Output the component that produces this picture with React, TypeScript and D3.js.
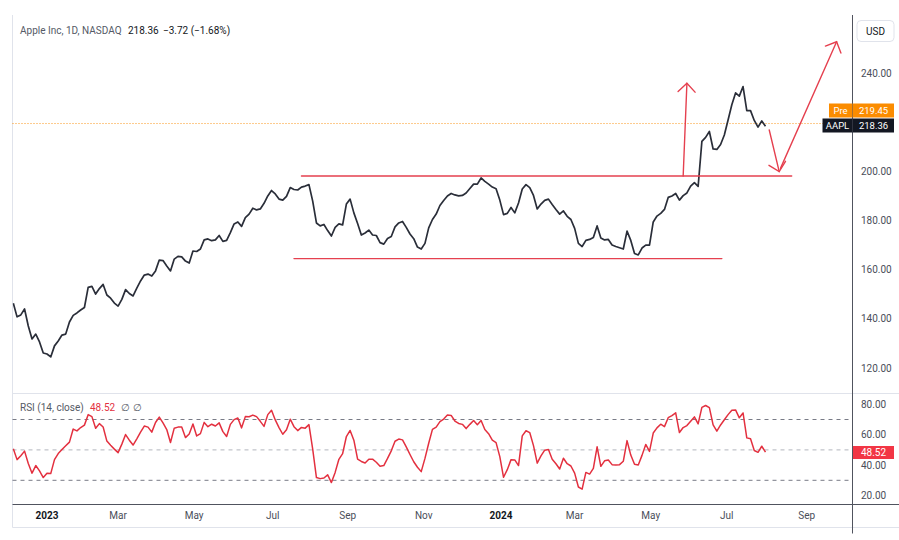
import React from "react";
import * as d3 from "d3";

// ---- data ----
const START_DATE = "2022-12-07";
const STEP_DAYS = 3;

const closePrices = [
  146.3, 140.8, 141.6, 144.0, 137.1, 131.8, 133.8, 130.6, 126.1, 125.7,
  124.5, 129.0, 131.0, 133.4, 133.8, 138.7, 141.4, 142.4, 143.6, 144.6,
  152.8, 153.2, 150.1, 152.3, 154.0, 149.7, 148.4, 146.4, 145.2, 147.9,
  151.9, 150.3, 149.3, 152.5, 155.4, 157.8, 158.2, 157.4, 159.5, 163.9,
  163.7, 161.5, 159.5, 164.3, 165.4, 165.2, 163.5, 162.7, 167.6, 167.4,
  168.4, 172.1, 172.5, 171.8, 172.1, 173.9, 171.5, 171.9, 175.1, 178.6,
  179.4, 177.6, 181.2, 182.6, 185.0, 184.3, 184.7, 187.0, 190.0, 192.2,
  190.8, 188.7, 188.3, 189.8, 193.4, 192.6, 192.4, 193.6, 194.0, 194.6,
  187.9, 179.0, 177.8, 178.4, 175.9, 173.7, 177.2, 178.6, 178.2, 186.7,
  188.7, 183.1, 178.8, 174.1, 174.9, 176.1, 174.1, 173.9, 171.0, 170.4,
  172.7, 173.5, 177.4, 179.0, 179.6, 177.2, 174.5, 172.6, 169.2, 168.4,
  170.7, 177.0, 180.4, 182.6, 186.1, 188.1, 190.0, 191.0, 190.4, 190.0,
  190.2, 191.2, 193.0, 194.8, 194.8, 197.3, 195.9, 194.8, 193.6, 192.9,
  188.3, 182.4, 182.9, 185.3, 183.1, 187.1, 192.8, 194.6, 193.4, 190.2,
  184.7, 186.7, 188.2, 188.7, 186.5, 184.5, 182.6, 183.9, 181.7, 180.4,
  176.8, 170.7, 169.4, 171.9, 172.3, 173.1, 177.8, 172.9, 172.1, 172.3,
  170.0, 169.4, 168.9, 168.4, 175.7, 171.9, 166.6, 166.0, 168.8, 170.0,
  170.0, 179.4, 181.8, 182.9, 184.5, 189.4, 190.0, 191.0, 188.3, 190.1,
  191.2, 194.0, 195.4, 193.9, 212.2, 213.8, 216.2, 209.1, 208.9, 210.9,
  214.8, 220.9, 227.1, 231.9, 230.6, 234.5, 224.7, 224.7, 220.7, 218.0,
  220.5, 218.36,
];

const rsiValues = [
  50.7, 43.6, 46.2, 49.2, 41.0, 34.7, 39.7, 36.2, 31.8, 34.7,
  34.4, 43.6, 47.6, 50.2, 52.7, 55.1, 63.7, 62.5, 64.7, 66.3,
  73.2, 71.9, 64.2, 67.3, 65.1, 55.8, 53.0, 50.5, 48.2, 53.8,
  60.1, 56.4, 53.2, 57.3, 61.7, 65.7, 65.0, 61.7, 68.0, 71.6,
  67.8, 63.4, 54.9, 64.3, 65.0, 65.0, 58.1, 60.5, 67.0, 59.2,
  60.7, 68.1, 65.3, 66.9, 65.7, 67.8, 62.0, 58.8, 66.8, 69.9,
  71.0, 64.5, 71.9, 71.8, 72.9, 71.9, 68.8, 65.5, 73.2, 76.1,
  69.7, 64.7, 60.3, 63.2, 70.2, 65.3, 62.7, 64.8, 64.3, 66.6,
  50.5, 31.8, 31.1, 31.5, 33.6, 28.5, 35.2, 43.8, 47.6, 58.8,
  62.8, 56.4, 43.9, 42.4, 41.4, 43.9, 43.9, 41.9, 39.3, 39.7,
  44.4, 49.4, 55.7, 57.1, 56.6, 52.0, 47.0, 42.2, 38.6, 35.7,
  44.4, 54.4, 63.5, 65.0, 68.6, 70.3, 72.9, 72.7, 69.0, 67.4,
  66.8, 64.0, 66.8, 69.3, 66.6, 69.3, 63.4, 60.7, 56.4, 54.8,
  45.6, 32.0, 37.0, 43.6, 43.4, 39.7, 59.2, 62.6, 61.4, 52.8,
  41.3, 46.1, 49.8, 50.2, 43.9, 40.9, 37.4, 44.5, 40.9, 39.4,
  34.7, 25.6, 24.2, 35.2, 34.1, 37.8, 52.0, 39.2, 42.8, 43.4,
  40.3, 40.0, 40.3, 42.5, 56.1, 46.6, 40.5, 40.1, 46.4, 53.6,
  49.0, 61.1, 64.5, 66.9, 65.3, 71.2, 72.6, 74.4, 61.4, 64.7,
  66.0, 68.9, 71.7, 67.1, 78.0, 79.2, 77.8, 66.5, 62.3, 66.4,
  69.8, 73.2, 76.1, 76.3, 71.1, 74.3, 57.9, 57.3, 49.6, 48.4,
  52.4, 48.52,
];

const timeTickDates = [
  "2023-01-03", "2023-03-01", "2023-05-01", "2023-07-03", "2023-09-01", "2023-11-01",
  "2024-01-02", "2024-03-01", "2024-05-01", "2024-07-01", "2024-09-03",
];
const timeTickLabels = ["2023", "Mar", "May", "Jul", "Sep", "Nov", "2024", "Mar", "May", "Jul", "Sep"];

// 220.00 is hidden behind the Pre / AAPL price labels in the reference
const priceTicks = [120, 140, 160, 180, 200, 240];
const rsiTicks = [20, 40, 60, 80];
const rsiBands = [70, 50, 30];

const lastPrice = 218.36;
const priceChange = "−3.72 (−1.68%)";
const preMarketPrice = 219.45;
const lastRsi = 48.52;

// drawings: [date, price]
const resistanceLine: [string, number][] = [["2023-07-26", 198.1], ["2024-08-22", 198.1]];
const supportLine: [string, number][] = [["2023-07-20", 164.5], ["2024-06-27", 164.5]];
const breakoutArrow: [string, number][] = [["2024-05-27", 198.1], ["2024-05-30", 235.8]];
const pullbackArrow: [string, number][] = [["2024-08-04", 216.8], ["2024-08-12", 199.9]];
const targetArrow: [string, number][] = [["2024-08-13", 201.2], ["2024-09-27", 252.7]];

const FONT = "Roboto, 'Noto Sans', sans-serif";
const RED = "#e5404f";

export default function App() {
  const W = 899, H = 540;
  const L = 12.5, R = 852.5;
  const TOP = 15, SEP = 393.5, TAX = 504.5, BOT = 527.5;

  const parse = d3.timeParse("%Y-%m-%d");
  const x = d3.scaleTime()
    .domain([parse("2023-01-03")!, parse("2024-08-01")!])
    .range([47, 765.5]);
  const y = d3.scaleLinear().domain([120, 240]).range([368, 73]);
  const yR = d3.scaleLinear().domain([20, 80]).range([495.5, 404.3]);

  const start = parse(START_DATE)!;
  const dates = closePrices.map((_, i) => d3.timeDay.offset(start, i * STEP_DAYS));

  const priceLine = d3.line<number>().x((_, i) => x(dates[i])).y((d) => y(d))(closePrices) || "";
  const rsiLine = d3.line<number>().x((_, i) => x(dates[i])).y((d) => yR(d))(rsiValues) || "";

  const pt = (p: [string, number]): [number, number] => [x(parse(p[0])!), y(p[1])];
  const seg = (s: [string, number][]) => d3.line()([pt(s[0]), pt(s[1])]) || "";
  const head = (s: [string, number][], len = 12, ang = Math.PI / 4) => {
    const a = pt(s[0]), b = pt(s[1]);
    const t = Math.atan2(a[1] - b[1], a[0] - b[0]);
    const w1: [number, number] = [b[0] + len * Math.cos(t + ang), b[1] + len * Math.sin(t + ang)];
    const w2: [number, number] = [b[0] + len * Math.cos(t - ang), b[1] + len * Math.sin(t - ang)];
    return d3.line()([w1, b, w2]) || "";
  };

  const labelX = 861;
  const boxX = 853, boxW = 41;

  return (
    <svg
      width={W}
      height={H}
      style={{ position: "absolute", left: 0, top: 0, background: "#fff" }}
      fontFamily={FONT}
    >
      <defs>
        <clipPath id="plotClip">
          <rect x={L} y={TOP} width={R - L} height={TAX - TOP} />
        </clipPath>
      </defs>
      <rect x={0} y={0} width={W} height={H} fill="#fff" />

      {/* frame lines */}
      <line x1={L} x2={L} y1={TOP} y2={BOT} stroke="#e0e3eb" />
      <line x1={L} x2={W} y1={SEP} y2={SEP} stroke="#e0e3eb" />
      <line x1={L} x2={W} y1={TAX} y2={TAX} stroke="#50535e" />
      <line x1={L} x2={W} y1={BOT} y2={BOT} stroke="#e0e3eb" />
      <line x1={R} x2={R} y1={TOP} y2={BOT + 6} stroke="#50535e" />

      {/* pre-market dotted line */}
      <line x1={L} x2={R} y1={y(preMarketPrice)} y2={y(preMarketPrice)}
        stroke="#fb8c00" strokeDasharray="1 2" strokeWidth={1} opacity={0.9} />

      {/* RSI bands */}
      {rsiBands.map((b) => (
        <line key={b} x1={L} x2={R} y1={yR(b)} y2={yR(b)}
          stroke={b === 50 ? "#b2b5be" : "#787b86"} strokeDasharray="4 4" strokeWidth={1} />
      ))}

      <g clipPath="url(#plotClip)">
        <path d={priceLine} fill="none" stroke="#2a2e39" strokeWidth={1.7} strokeLinejoin="round" />
        <path d={rsiLine} fill="none" stroke="#e3303f" strokeWidth={1.5} strokeLinejoin="round" />

        {/* drawings */}
        <g stroke={RED} strokeWidth={1.4} fill="none" strokeLinecap="round">
          <path d={seg(resistanceLine)} />
          <path d={seg(supportLine)} />
          <path d={seg(breakoutArrow)} />
          <path d={head(breakoutArrow)} />
          <path d={seg(pullbackArrow)} />
          <path d={head(pullbackArrow)} />
          <path d={seg(targetArrow)} />
          <path d={head(targetArrow)} />
        </g>
      </g>

      {/* header */}
      <text x={20} y={30} fontSize={10} dominantBaseline="central" fill="#555a66">
        Apple Inc, 1D, NASDAQ
      </text>
      <text x={128} y={30} fontSize={10} dominantBaseline="central" fill="#131722">
        {lastPrice.toFixed(2)}
      </text>
      <text x={163} y={30} fontSize={10} dominantBaseline="central" fill="#131722">
        {priceChange}
      </text>

      {/* RSI header */}
      <text x={20} y={407} fontSize={10} dominantBaseline="central" fill="#555a66">
        RSI (14, close)
      </text>
      <text x={90} y={407} fontSize={10} dominantBaseline="central" fill="#e3303f">
        {lastRsi.toFixed(2)}
      </text>
      <text x={121} y={407} fontSize={10} dominantBaseline="central" fill="#555a66">∅</text>
      <text x={133} y={407} fontSize={10} dominantBaseline="central" fill="#555a66">∅</text>

      {/* price axis */}
      <rect x={857} y={20.5} width={37} height={21} rx={4} fill="#fff" stroke="#e0e3eb" />
      <text x={875.5} y={31} fontSize={10} textAnchor="middle" dominantBaseline="central" fill="#131722">USD</text>
      {priceTicks.map((t) => (
        <text key={t} x={labelX} y={y(t)} fontSize={10} dominantBaseline="central" fill="#4a4e59">
          {t.toFixed(2)}
        </text>
      ))}

      {/* RSI axis */}
      {rsiTicks.map((t) => (
        <text key={t} x={labelX} y={yR(t)} fontSize={10} dominantBaseline="central" fill="#4a4e59">
          {t.toFixed(2)}
        </text>
      ))}

      {/* Pre / AAPL labels */}
      <rect x={829} y={103.5} width={R - 829} height={14} fill="#fb8c00" />
      <text x={840.5} y={110.5} fontSize={9.5} textAnchor="middle" dominantBaseline="central" fill="#fff">Pre</text>
      <rect x={boxX} y={103.5} width={boxW} height={14} fill="#fb8c00" />
      <text x={boxX + boxW / 2} y={110.5} fontSize={9.5} textAnchor="middle" dominantBaseline="central" fill="#fff">
        {preMarketPrice.toFixed(2)}
      </text>
      <rect x={822.5} y={118.5} width={R - 822.5} height={14} fill="#131722" />
      <text x={837.5} y={125.8} fontSize={9.5} textAnchor="middle" dominantBaseline="central" fill="#fff">AAPL</text>
      <rect x={boxX} y={118.5} width={boxW} height={14} fill="#131722" />
      <text x={boxX + boxW / 2} y={125.8} fontSize={9.5} textAnchor="middle" dominantBaseline="central" fill="#fff">
        {lastPrice.toFixed(2)}
      </text>

      {/* RSI value label */}
      <rect x={boxX} y={446} width={boxW} height={13} fill="#f23645" />
      <text x={boxX + boxW / 2} y={452.6} fontSize={10} textAnchor="middle" dominantBaseline="central" fill="#fff">
        {lastRsi.toFixed(2)}
      </text>

      {/* time axis */}
      {timeTickDates.map((d, i) => {
        const isYear = /^\d{4}$/.test(timeTickLabels[i]);
        return (
          <text key={d} x={x(parse(d)!)} y={515.5} fontSize={10} textAnchor="middle"
            dominantBaseline="central" fontWeight={isYear ? 700 : 400}
            fill={isYear ? "#131722" : "#4a4e59"}>
            {timeTickLabels[i]}
          </text>
        );
      })}
    </svg>
  );
}
